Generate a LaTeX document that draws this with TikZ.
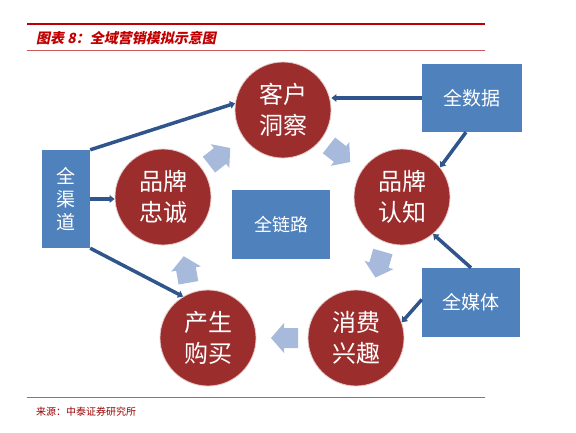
\documentclass[tikz,border=0pt]{standalone}
\usepackage{fontspec}
\setmainfont{Noto Sans CJK SC}
\newfontfamily\titlefont[FakeSlant=0.2]{Noto Sans CJK SC}
\usetikzlibrary{arrows.meta}
\definecolor{circred}{RGB}{155,45,45}
\definecolor{boxblue}{RGB}{79,129,189}
\definecolor{arrblue}{RGB}{47,85,140}
\definecolor{lightarr}{RGB}{168,186,220}
\definecolor{titlered}{RGB}{192,0,0}
\definecolor{linered}{RGB}{205,90,90}
\tikzset{
  circnode/.style={circle, minimum size=96pt, inner sep=0pt, fill=circred, draw=white!75!circred, line width=0.8pt,
    text=white, align=center, font=\fontsize{24}{31}\selectfont},
  boxnode/.style={rectangle, fill=boxblue, text=white, align=center, inner sep=0pt,
    font=\fontsize{19}{23}\selectfont},
  darr/.style={arrblue, line width=3.5pt, -{Triangle[length=5pt,width=7.5pt]}},
  blockarr/.pic={\fill[lightarr] (-14,-10) -- (0,-10) -- (0,-15) -- (13,0) -- (0,15) -- (0,10) -- (-14,10) -- cycle;}
}
\begin{document}
\begin{tikzpicture}[x=1pt,y=-1pt]
\useasboundingbox[fill=white] (0,0) rectangle (576,432);
% header and footer
\draw[titlered, line width=2pt] (27,24) -- (485,24);
\draw[linered, line width=0.7pt] (27,50) -- (485,50);
\draw[linered, line width=0.7pt] (27,397) -- (485,397);
\node[anchor=west, inner sep=0pt, text=titlered, font=\titlefont\bfseries\fontsize{14}{14}\selectfont] (title) at (36,38) {图表 8：全域营销模拟示意图};
\node[anchor=west, inner sep=0pt, text=titlered!80!black, font=\fontsize{10}{10}\selectfont] (source) at (36,412) {来源：中泰证券研究所};
% circles
\node[circnode] (khdc) at (283,110) {客户\\洞察};
\node[circnode] (ppzr) at (402,197) {品牌\\认知};
\node[circnode] (xfxq) at (356,338) {消费\\兴趣};
\node[circnode] (cgbm) at (208,338) {产生\\购买};
\node[circnode] (ppzc) at (163,197) {品牌\\忠诚};
% boxes
\node[boxnode, minimum width=48pt, minimum height=98pt] (qqd) at (66,199) {全\\渠\\道};
\node[boxnode, minimum width=98pt, minimum height=69pt, font=\fontsize{18}{22}\selectfont] (qll) at (281,224.5) {全链路};
\node[boxnode, minimum width=100pt, minimum height=68pt] (qsj) at (472,98) {全数据};
\node[boxnode, minimum width=98pt, minimum height=69pt] (qmt) at (471,302.5) {全媒体};
% dark connectors
\draw[darr] (qqd.north east) -- (khdc.172);
\draw[darr] (qqd.east) -- (qqd.east -| ppzc.west);
\draw[darr] (qqd.south east) -- (cgbm.121);
\draw[darr] (qsj.west) -- (qsj.west -| khdc.east);
\draw[darr] ([xshift=-6pt]qsj.south) -- (ppzr.38);
\draw[darr] (qmt.north) -- (ppzr.-50);
\draw[darr] ([yshift=3pt]qmt.west) -- (xfxq.19);
% cycle block arrows
\pic[rotate=-38] at (340,154) {blockarr};
\pic[rotate=-106] at (379,265) {blockarr};
\pic[rotate=180] at (284,338) {blockarr};
\pic[rotate=100] at (186,269) {blockarr};
\pic[rotate=38] at (220,156) {blockarr};
\end{tikzpicture}
\end{document}
